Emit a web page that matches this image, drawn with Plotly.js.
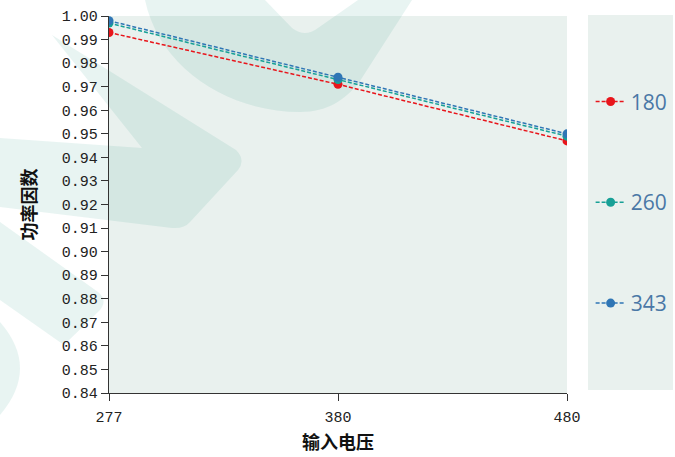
<!DOCTYPE html>
<html>
<head>
<meta charset="utf-8">
<script src="https://cdn.plot.ly/plotly-3.0.1.min.js"></script>
<style>html,body{margin:0;padding:0;background:#fff;}#chart{width:675px;height:457px;}</style>
</head>
<body>
<div id="chart"></div>
<script>
const voltages = ['277', '380', '480'];
const seriesNames = ['180', '260', '343'];
const pf180 = [0.993, 0.971, 0.947];
const pf260 = [0.997, 0.973, 0.949];
const pf343 = [0.998, 0.974, 0.950];
const yTicks = [0.84,0.85,0.86,0.87,0.88,0.89,0.90,0.91,0.92,0.93,0.94,0.95,0.96,0.97,0.98,0.99,1.00];
const colors = ['#e8151b', '#17a096', '#2f76b5'];
const allValues = [pf180, pf260, pf343];

const traces = allValues.map((vals, i) => ({
  x: voltages, y: vals, name: seriesNames[i], type: 'scatter', mode: 'lines+markers',
  line: {color: colors[i], width: 1.5, dash: '4px,2px'},
  marker: {color: colors[i], size: 9},
  legendgroup: 'g' + i
}));

// decorative watermark (pixel geometry -> paper coordinates)
const L = 109, R = 567, T = 16, B = 393;
function P(x, y) { return ((x - L) / (R - L)).toFixed(4) + ',' + ((B - y) / (B - T)).toFixed(4); }
function path(cmds) {
  return cmds.map(c => {
    let s = c[0];
    for (let k = 1; k < c.length; k += 2) s += (k > 1 ? ' ' : '') + P(c[k], c[k + 1]);
    return s;
  }).join(' ');
}
const wm = 'rgba(25,145,130,0.10)';
const wmPaths = [
  // U-shaped band near the top centre
  [['M',145,0],['C',160,70,230,112,300,112],['C',328,112,344,100,358,84],['L',412,0],['L',358,0],['L',318,28],['Q',305,38,292,28],['L',265,0],['Z']],
  // chevron band on the left
  [['M',52,35],['L',236,150],['Q',246,160,238,170],['L',190,222],['Q',184,229,172,228],['L',0,207],['L',0,138],['L',142,148],['Z']],
  // lower diagonal band
  [['M',0,222],['L',98,292],['Q',108,300,100,310],['L',64,345],['L',0,300],['Z']],
  // arc bottom left
  [['M',0,322],['Q',40,368,0,415],['Z']]
];
const shapes = [
  {type: 'rect', xref: 'paper', yref: 'paper', x0: (588 - L) / (R - L), x1: (673 - L) / (R - L), y0: (B - 390) / (B - T), y1: (B - 15) / (B - T),
   fillcolor: '#e9f1ee', line: {width: 0}, layer: 'below'}
].concat(wmPaths.map(p => ({type: 'path', xref: 'paper', yref: 'paper', path: path(p), fillcolor: wm, line: {width: 0}, layer: 'below'})));

const tickFont = {family: '"Liberation Mono", monospace', size: 15, color: '#222'};
const titleFont = {family: '"Noto Sans CJK SC", sans-serif', size: 18, color: '#111', weight: 'bold'};
const layout = {
  width: 675, height: 457,
  margin: {l: L, r: 675 - R, t: T, b: 457 - B},
  paper_bgcolor: '#ffffff',
  plot_bgcolor: '#e9f1ee',
  showlegend: true,
  legend: {
    xref: 'container', yref: 'container',
    x: 0.875, y: 0.822, xanchor: 'left', yanchor: 'top',
    bgcolor: 'rgba(0,0,0,0)', borderwidth: 0, maxheight: 440,
    font: {family: '"Open Sans", "Noto Sans", sans-serif', size: 21, color: '#4a78a6'},
    tracegroupgap: 70.5, traceorder: 'grouped', itemwidth: 30
  },
  xaxis: {
    type: 'category', range: [0, 2], showgrid: false, zeroline: false,
    showline: true, linecolor: '#333', linewidth: 1.2,
    ticks: 'outside', ticklen: 7, tickcolor: '#333', tickfont: tickFont, ticklabelstandoff: 3
  },
  yaxis: {
    range: [0.84, 1.00], tickvals: yTicks, tickformat: '.2f', showgrid: false, zeroline: false,
    showline: true, linecolor: '#333', linewidth: 1.2,
    ticks: 'outside', ticklen: 7, tickcolor: '#333', tickfont: tickFont,
    title: {text: '功率因数', font: titleFont, standoff: 20}
  },
  annotations: [
    {text: '输入电压', xref: 'paper', yref: 'paper', x: 0.5, y: (B - 441) / (B - T), xanchor: 'center', yanchor: 'middle',
     showarrow: false, font: titleFont}
  ],
  shapes: shapes
};

Plotly.newPlot('chart', traces, layout, {displayModeBar: false, staticPlot: true});
</script>
</body>
</html>
